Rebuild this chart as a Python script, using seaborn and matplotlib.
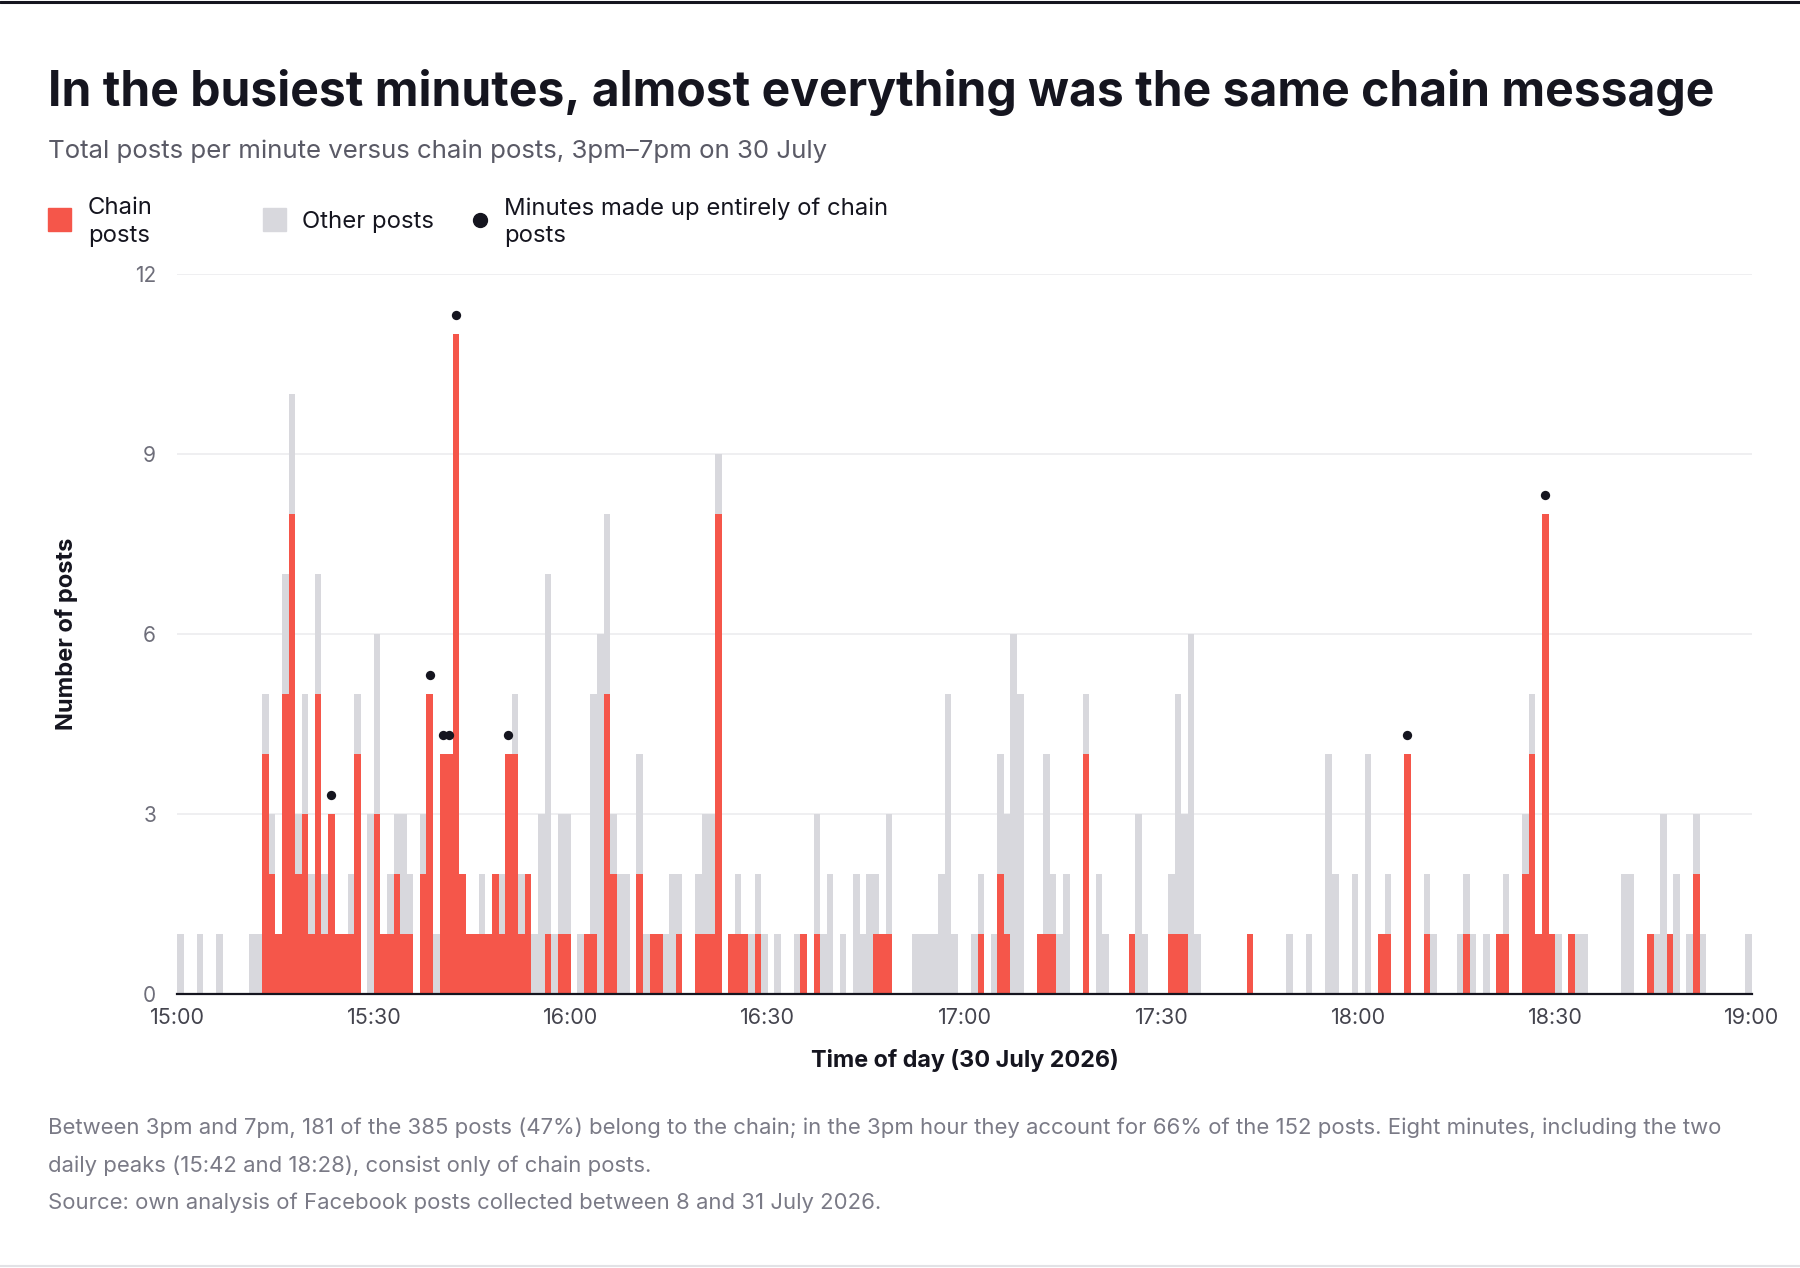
import matplotlib

matplotlib.use("Agg")
import matplotlib.pyplot as plt
import numpy as np
import pandas as pd
import seaborn as sns
from matplotlib.lines import Line2D
from matplotlib.patches import Rectangle

# Posts per minute, 15:00-18:59 (minute 0 = 15:00)
total_posts = [
    1, 0, 0, 1, 0, 0, 1, 0, 0, 0,
    0, 1, 1, 5, 3, 1, 7, 10, 3, 5,
    2, 7, 2, 3, 1, 1, 2, 5, 0, 3,
    6, 1, 2, 3, 3, 2, 0, 3, 5, 1,
    4, 4, 11, 2, 1, 1, 2, 1, 2, 2,
    4, 5, 2, 2, 1, 3, 7, 1, 3, 3,
    0, 1, 1, 5, 6, 8, 3, 2, 2, 0,
    4, 1, 1, 1, 1, 2, 2, 0, 0, 2,
    3, 3, 9, 0, 1, 2, 1, 1, 2, 1,
    0, 1, 0, 0, 1, 1, 0, 3, 1, 2,
    0, 1, 0, 2, 1, 2, 2, 1, 3, 0,
    0, 0, 1, 1, 1, 1, 2, 5, 1, 0,
    0, 1, 2, 0, 1, 4, 3, 6, 5, 0,
    0, 1, 4, 2, 1, 2, 0, 0, 5, 0,
    2, 1, 0, 0, 0, 1, 3, 1, 0, 0,
    0, 2, 5, 3, 6, 1, 0, 0, 0, 0,
    0, 0, 0, 1, 0, 0, 0, 0, 0, 1,
    0, 0, 1, 0, 0, 4, 2, 0, 0, 2,
    0, 4, 0, 1, 2, 0, 0, 4, 0, 0,
    2, 1, 0, 0, 0, 1, 2, 1, 0, 1,
    0, 1, 2, 0, 0, 3, 5, 1, 8, 1,
    1, 0, 1, 1, 1, 0, 0, 0, 0, 0,
    2, 2, 0, 0, 1, 1, 3, 1, 2, 0,
    1, 3, 1, 0, 0, 0, 0, 0, 0, 1,
]
chain_posts = [
    0, 0, 0, 0, 0, 0, 0, 0, 0, 0,
    0, 0, 0, 4, 2, 1, 5, 8, 2, 3,
    1, 5, 1, 3, 1, 1, 1, 4, 0, 0,
    3, 1, 1, 2, 1, 1, 0, 2, 5, 0,
    4, 4, 11, 2, 1, 1, 1, 1, 2, 1,
    4, 4, 1, 2, 0, 0, 1, 0, 1, 1,
    0, 0, 1, 1, 0, 5, 2, 0, 0, 0,
    2, 0, 1, 1, 0, 0, 1, 0, 0, 1,
    1, 1, 8, 0, 1, 1, 1, 0, 1, 0,
    0, 0, 0, 0, 0, 1, 0, 1, 0, 0,
    0, 0, 0, 0, 0, 0, 1, 1, 1, 0,
    0, 0, 0, 0, 0, 0, 0, 0, 0, 0,
    0, 0, 1, 0, 0, 2, 1, 0, 0, 0,
    0, 1, 1, 1, 0, 0, 0, 0, 4, 0,
    0, 0, 0, 0, 0, 1, 0, 0, 0, 0,
    0, 1, 1, 1, 0, 0, 0, 0, 0, 0,
    0, 0, 0, 1, 0, 0, 0, 0, 0, 0,
    0, 0, 0, 0, 0, 0, 0, 0, 0, 0,
    0, 0, 0, 1, 1, 0, 0, 4, 0, 0,
    1, 0, 0, 0, 0, 0, 1, 0, 0, 0,
    0, 1, 1, 0, 0, 2, 4, 1, 8, 1,
    0, 0, 1, 0, 0, 0, 0, 0, 0, 0,
    0, 0, 0, 0, 1, 0, 0, 1, 0, 0,
    0, 2, 0, 0, 0, 0, 0, 0, 0, 0,
]
# minutes where every post was a chain post (marked with a dot)
pure_chain_minutes = [23, 38, 40, 41, 42, 50, 187, 208]

tick_minutes = [0, 30, 60, 90, 120, 150, 180, 210, 240]
tick_labels = ["15:00", "15:30", "16:00", "16:30", "17:00", "17:30", "18:00", "18:30", "19:00"]
y_ticks = [0, 3, 6, 9, 12]

title = "In the busiest minutes, almost everything was the same chain message"
subtitle = "Total posts per minute versus chain posts, 3pm\u20137pm on 30 July"
note_lines = [
    "Between 3pm and 7pm, 181 of the 385 posts (47%) belong to the chain; in the 3pm hour they account for 66% of the 152 posts. Eight minutes, including the two",
    "daily peaks (15:42 and 18:28), consist only of chain posts.",
    "Source: own analysis of Facebook posts collected between 8 and 31 July 2026.",
]

RED = "#F5564A"
GRAY = "#D8D8DD"
INK = "#15151F"

df = pd.DataFrame(
    {"minute": np.arange(len(total_posts)), "total": total_posts, "chain": chain_posts}
)
dots = df[df["minute"].isin(pure_chain_minutes)]

sns.set_theme(style="white")
plt.rcParams["font.family"] = ["Inter", "DejaVu Sans"]

W, H = 1800, 1268
fig = plt.figure(figsize=(W / 100, H / 100), dpi=100)


def fx(px):
    return px / W


def fy(py):
    return 1 - py / H


ax = fig.add_axes([fx(177), fy(994), fx(1752) - fx(177), (994 - 274) / H])

# one bin per minute
sns.histplot(data=df, x="minute", weights="total", binwidth=1, binrange=(0, 240),
             color=GRAY, alpha=1, linewidth=0, ax=ax)
sns.histplot(data=df, x="minute", weights="chain", binwidth=1, binrange=(0, 240),
             color=RED, alpha=1, linewidth=0, ax=ax)
sns.scatterplot(x=dots["minute"] + 0.5, y=dots["total"] + 0.32, color=INK,
                s=45, linewidth=0, ax=ax, zorder=5)

ax.set_xlim(0, 240)
ax.set_ylim(0, 12)
ax.set_xticks(tick_minutes)
ax.set_xticklabels(tick_labels)
ax.set_yticks(y_ticks)
ax.tick_params(axis="x", length=0, pad=10, labelsize=15.5, labelcolor="#44444E")
ax.tick_params(axis="y", length=0, pad=15, labelsize=15, labelcolor="#6E6E7A")
for t in y_ticks[1:]:
    ax.axhline(t, color="#ECECEF", linewidth=1.2, zorder=0)
for side in ["top", "right", "left"]:
    ax.spines[side].set_visible(False)
ax.spines["bottom"].set_color(INK)
ax.spines["bottom"].set_linewidth(1.6)
ax.spines["bottom"].set_zorder(6)

ax.set_xlabel("Time of day (30 July 2026)", fontsize=16.8, fontweight="bold", color=INK)
ax.set_ylabel("Number of posts", fontsize=17, fontweight="bold", color=INK)
ax.xaxis.set_label_coords(0.5, (994 - 1060) / 720)
ax.xaxis.label.set_va("center")
ax.yaxis.set_label_coords((67 - 177) / 1575, 0.5)
ax.yaxis.label.set_va("center")

# Title block
fig.text(fx(48), fy(106), title, fontsize=34.6, fontweight="bold", color=INK, va="baseline")
fig.text(fx(48), fy(158), subtitle, fontsize=18.6, color="#5A5A66", va="baseline")

# Legend
leg_y = 222
fig.add_artist(Rectangle((fx(48), fy(231)), fx(23), 23 / H, color=RED, transform=fig.transFigure))
fig.text(fx(88), fy(leg_y), "Chain\nposts", fontsize=17.2, color=INK, va="center", linespacing=1.3)
fig.add_artist(Rectangle((fx(263), fy(231)), fx(23), 23 / H, color=GRAY, transform=fig.transFigure))
fig.text(fx(302), fy(leg_y), "Other posts", fontsize=17.2, color=INK, va="center")
fig.add_artist(Line2D([fx(480)], [fy(220)], marker="o", markersize=10, color=INK,
                      linestyle="none", transform=fig.transFigure))
fig.text(fx(504), fy(leg_y), "Minutes made up entirely of chain\nposts", fontsize=17.2,
         color=INK, va="center", linespacing=1.3)

# Notes
for i, line in enumerate(note_lines):
    fig.text(fx(48), fy(1128 + 37.3 * i), line, fontsize=15.9, color="#7A7A86", va="center")

# frame lines
fig.add_artist(Line2D([0, 1], [fy(1.5), fy(1.5)], color=INK, linewidth=2.2, transform=fig.transFigure))
fig.add_artist(Line2D([0, 1], [fy(1266), fy(1266)], color="#E2E2E6", linewidth=1.5, transform=fig.transFigure))

fig.savefig("out.png", dpi=100, facecolor="white")
